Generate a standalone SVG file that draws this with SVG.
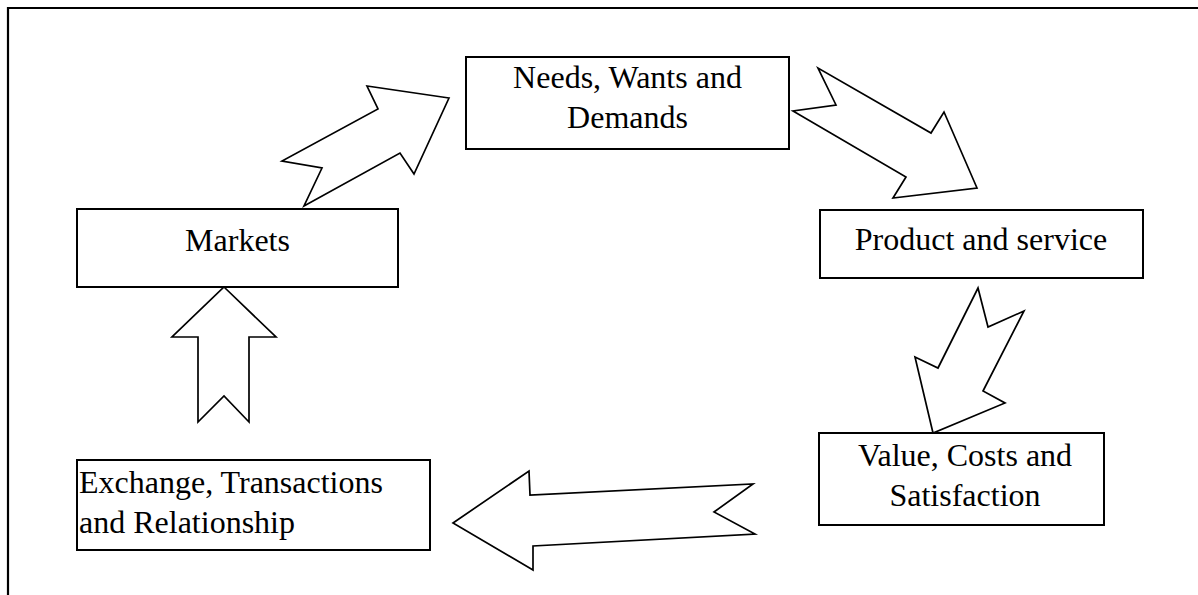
<svg xmlns="http://www.w3.org/2000/svg" width="1198" height="595" viewBox="0 0 1198 595">
<style>
.box{fill:#fff;stroke:#000;stroke-width:2}
.arr{fill:#fff;stroke:#000;stroke-width:1.7;stroke-linejoin:miter}
.t{font-family:"Liberation Serif","Times New Roman",serif;font-size:32px;fill:#000}
.c{text-anchor:middle}
</style>
<rect width="1198" height="595" fill="#fff"/>
<path d="M8,595 V8 H1198" fill="none" stroke="#000" stroke-width="2.2"/>
<g id="connectors">
<polygon class="arr" points="449,98 367,86 378,109 282,161 322,168 304,206 400,153 414,174"/>
<polygon class="arr" points="977,188 944,112 931,133 818,68 836,105 793,111 906,177 893,198"/>
<polygon class="arr" points="933,433 915,357 938,368 978,288 988,327 1024,311 983,391 1005,403"/>
<polygon class="arr" points="224,287 276,337 249,337 249,422 224,396 198,422 198,337 172,337"/>
<polygon class="arr" points="453,523 529,471 530,495 753,484 714,512 755,534 533,546 533,570"/>
</g>
<g id="needs">
<rect class="box" x="466" y="57" width="323" height="92"/>
<text class="t c" x="627.5" y="88">Needs, Wants and</text>
<text class="t c" x="627.5" y="128">Demands</text>
</g>
<g id="markets">
<rect class="box" x="77" y="209" width="321" height="78"/>
<text class="t c" x="237.5" y="251">Markets</text>
</g>
<g id="product">
<rect class="box" x="820" y="210" width="323" height="68"/>
<text class="t c" x="981" y="250">Product and service</text>
</g>
<g id="value">
<rect class="box" x="819" y="433" width="285" height="92"/>
<text class="t c" x="965" y="466">Value, Costs and</text>
<text class="t c" x="965" y="506">Satisfaction</text>
</g>
<g id="exchange">
<rect class="box" x="77" y="460" width="353" height="90"/>
<text class="t" x="79" y="493">Exchange, Transactions</text>
<text class="t" x="79" y="533">and Relationship</text>
</g>
</svg>
